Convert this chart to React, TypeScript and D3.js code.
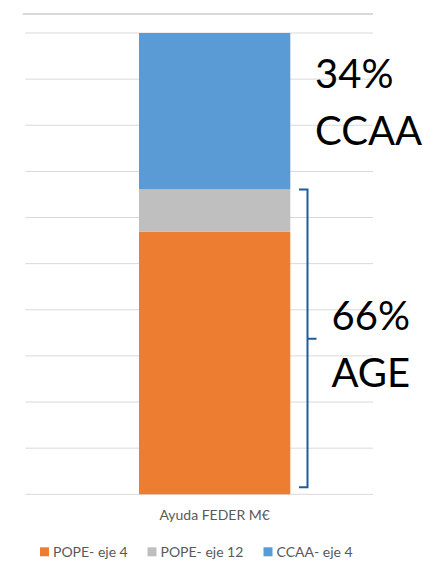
import React from "react";
import * as d3 from "d3";

const categories = ["Ayuda FEDER M€"];
const seriesNames = ["POPE- eje 4", "POPE- eje 12", "CCAA- eje 4"];
const popeEje4 = [56.9];
const popeEje12 = [9.2];
const ccaaEje4 = [33.9];
const yTicks = [0, 10, 20, 30, 40, 50, 60, 70, 80, 90, 100];
const colors = ["#ED7D31", "#BFBFBF", "#5B9BD5"];
const annotTop = ["34%", "CCAA"];
const annotBottom = ["66%", "AGE"];

const W = 433;
const H = 563;
const FONT = "Lato, 'Open Sans', sans-serif";

export default function App() {
  const y = d3.scaleLinear().domain([0, 100]).range([494.3, 33]);
  const x = d3.scaleBand().domain(categories).range([63.35, 365.95]).paddingOuter(0.5).paddingInner(0);

  const table = categories.map((c, i) => ({
    cat: c,
    [seriesNames[0]]: popeEje4[i],
    [seriesNames[1]]: popeEje12[i],
    [seriesNames[2]]: ccaaEje4[i],
  }));
  const stacked = d3.stack<any>().keys(seriesNames)(table);

  const ageTop = y(popeEje4[0] + popeEje12[0]);
  const ageBot = y(0) - 7;
  const mid = (ageTop + ageBot) / 2 + 0.5;
  const bx = 307.5;
  const bracketPath = `M299,${ageTop} H${bx} V${mid} H316.5 M${bx},${mid} V${ageBot} H299`;

  const legendX = [40, 147.5, 263.5];

  return (
    <svg width={W} height={H} style={{ position: "absolute", left: 0, top: 0, background: "#fff" }}>
      <line x1={22.7} x2={373} y1={14} y2={14} stroke="#D9D9D9" strokeWidth={1.8} />
      {yTicks.map((t) => (
        <line key={t} x1={25.3} x2={373} y1={y(t)} y2={y(t)} stroke="#D9D9D9" strokeWidth={1} />
      ))}
      {stacked.map((s, si) =>
        s.map((d, di) => (
          <rect
            key={si + "-" + di}
            x={x(categories[di])!}
            width={x.bandwidth()}
            y={y(d[1])}
            height={y(d[0]) - y(d[1])}
            fill={colors[si]}
          />
        ))
      )}
      <path d={bracketPath} fill="none" stroke="#1F5C99" strokeWidth={2} />
      {annotTop.map((t, i) => (
        <text key={t} x={315} y={88 + i * 57} fontFamily={FONT} fontSize={40} fill="#000">
          {t}
        </text>
      ))}
      {annotBottom.map((t, i) => (
        <text key={t} x={331.5} y={330 + i * 57} fontFamily={FONT} fontSize={40} fill="#000">
          {t}
        </text>
      ))}
      {categories.map((c) => (
        <text
          key={c}
          x={x(c)! + x.bandwidth() / 2}
          y={520}
          textAnchor="middle"
          fontFamily={FONT}
          fontSize={14}
          fill="#595959"
        >
          {c}
        </text>
      ))}
      {seriesNames.map((n, i) => (
        <g key={n}>
          <rect x={legendX[i]} y={547.3} width={9} height={9} fill={colors[i]} />
          <text x={legendX[i] + 13} y={556.5} fontFamily={FONT} fontSize={14} fill="#595959">
            {n}
          </text>
        </g>
      ))}
    </svg>
  );
}
